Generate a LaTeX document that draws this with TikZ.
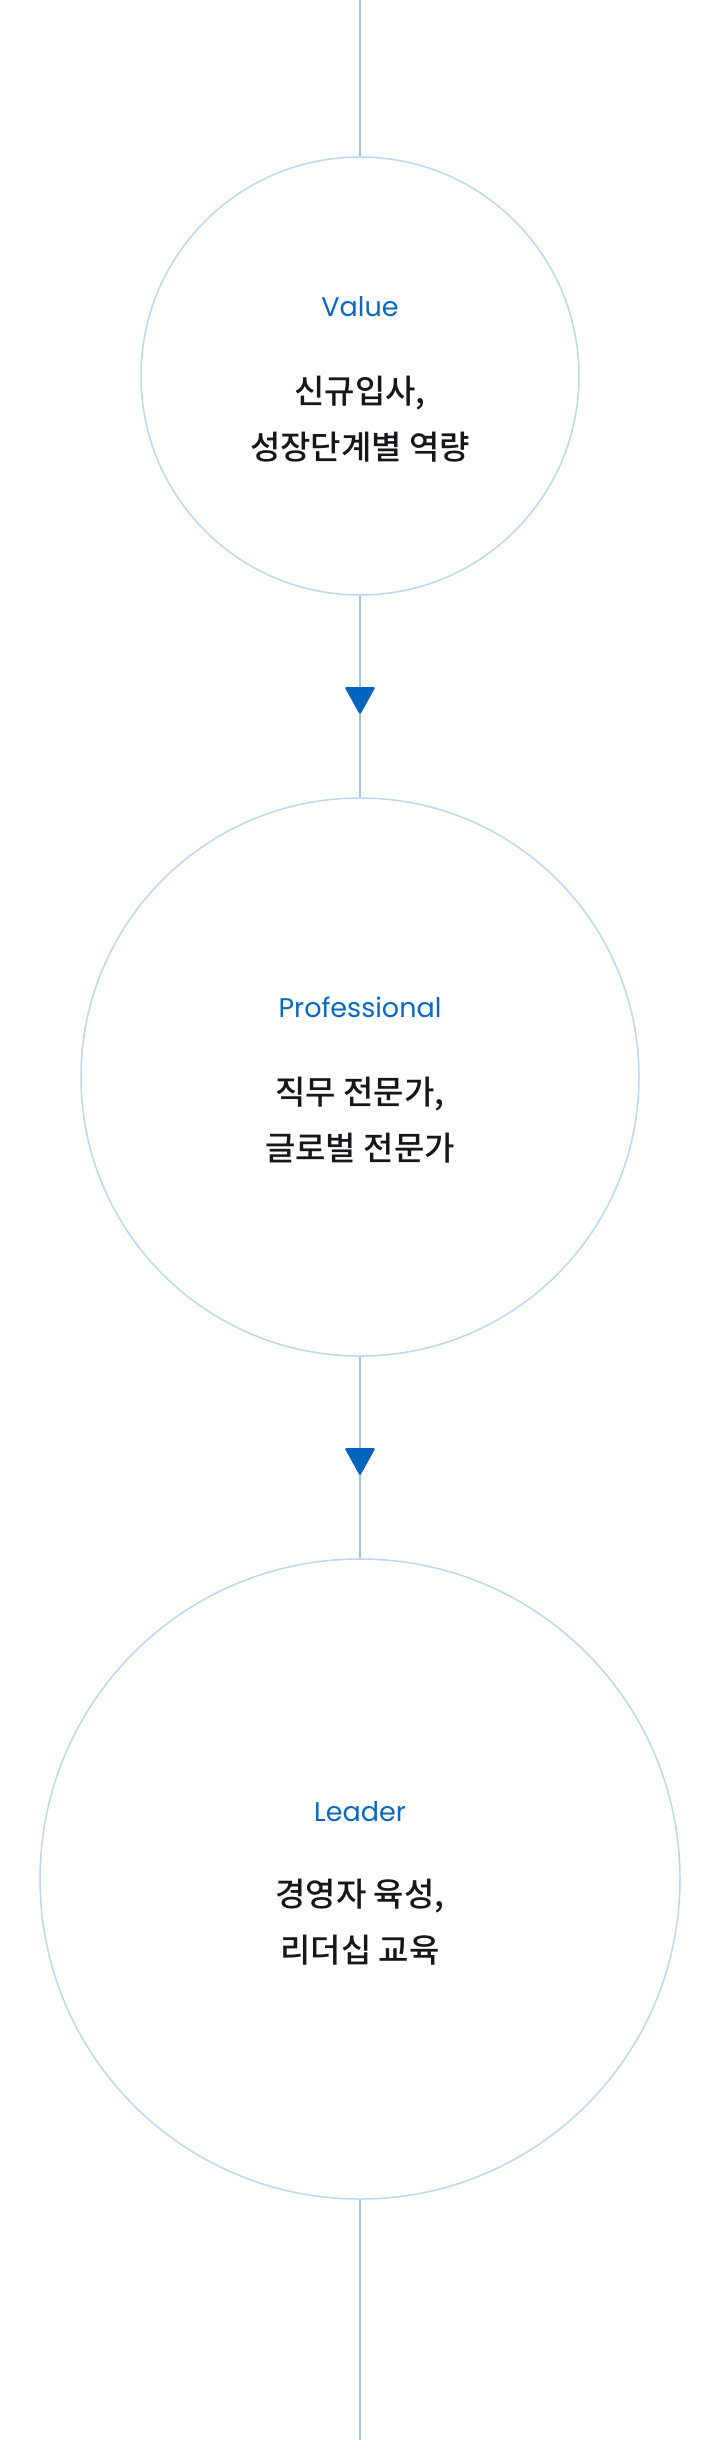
\documentclass[tikz,border=0pt]{standalone}
\usepackage{fontspec}
\setmainfont{Poppins}
\IfFontExistsTF{Noto Sans CJK KR Medium}
	{\newfontfamily\krfont{Noto Sans CJK KR Medium}}
	{\newfontfamily\krfont{Noto Sans CJK KR}}
\usetikzlibrary{calc}

\definecolor{lineblue}{HTML}{A8C3DE}
\definecolor{ringblue}{HTML}{BCD7F0}
\definecolor{tipblue}{HTML}{0064BE}
\definecolor{titleblue}{HTML}{0A68C2}
\definecolor{bodytext}{HTML}{16171B}

\tikzset{
	stage/.style={circle, draw=ringblue, line width=1.5pt, inner sep=0pt},
	link/.style={draw=lineblue, line width=2pt},
	title/.style={font=\fontsize{27}{27}\selectfont, text=titleblue, anchor=base},
	body/.style={font=\krfont\fontsize{33}{56}\selectfont, text=bodytext, align=center},
	downtip/.style={fill=tipblue, rounded corners=1.5pt}
}

\begin{document}
\begin{tikzpicture}[x=1pt, y=-1pt]

	% frame
	\fill [white] (0,0) rectangle (720,2440);
	\useasboundingbox (0,0) rectangle (720,2440);

	% stages
	\node [stage, minimum size=438pt] (v) at (360,376) {};
	\node [stage, minimum size=558pt] (p) at (360,1077) {};
	\node [stage, minimum size=640pt] (l) at (360,1879) {};

	% labels
	\node [title] (vt) at ($(v.center)+(0,-60)$) {Value};
	\node [body] (vb) at ($(v.center)+(0,43)$) {신규입사,\\성장단계별 역량};
	\node [title] (pt) at ($(p.center)+(0,-60)$) {Professional};
	\node [body] (pb) at ($(p.center)+(0,43)$) {직무 전문가,\\글로벌 전문가};
	\node [title] (lt) at ($(l.center)+(0,-58)$) {Leader};
	\node [body] (lb) at ($(l.center)+(0,43)$) {경영자 육성,\\리더십 교육};

	% connectors
	\coordinate (top) at (360,0);
	\coordinate (bottom) at (360,2440);
	\draw [link] (top) -- (v.north);
	\draw [link] (v.south) -- coordinate (m1) (p.north);
	\draw [link] (p.south) -- coordinate (m2) (l.north);
	\draw [link] (l.south) -- (bottom);

	% arrow heads
	\foreach \m in {m1,m2}
		\fill [downtip] ($(\m)+(-15.5,-9.5)$) -- ($(\m)+(15.5,-9.5)$)
			-- ($(\m)+(0,18.5)$) -- cycle;

\end{tikzpicture}
\end{document}
